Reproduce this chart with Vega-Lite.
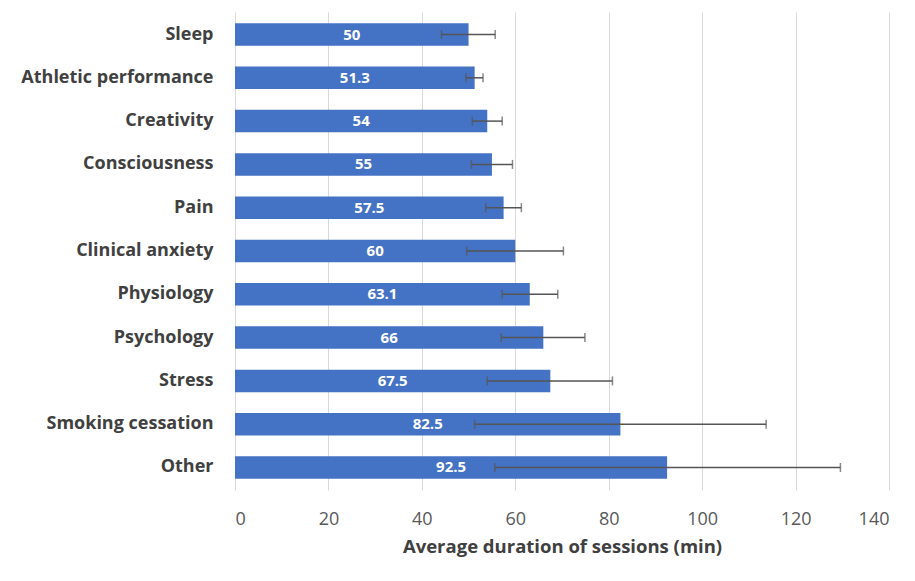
{
  "$schema": "https://vega.github.io/schema/vega-lite/v6.json",
  "autosize": "none",
  "width": 654,
  "height": 478,
  "padding": {"left": 235, "top": 12, "right": 26, "bottom": 91},
  "background": "white",
  "config": {"view": {"stroke": null}, "font": "Open Sans"},
  "data": {"values": [
    {"cat": "Sleep", "value": 50, "lo": 44.2, "hi": 55.7},
    {"cat": "Athletic performance", "value": 51.3, "lo": 49.4, "hi": 53.1},
    {"cat": "Creativity", "value": 54, "lo": 50.8, "hi": 57.2},
    {"cat": "Consciousness", "value": 55, "lo": 50.6, "hi": 59.4},
    {"cat": "Pain", "value": 57.5, "lo": 53.7, "hi": 61.3},
    {"cat": "Clinical anxiety", "value": 60, "lo": 49.6, "hi": 70.3},
    {"cat": "Physiology", "value": 63.1, "lo": 57.2, "hi": 69.1},
    {"cat": "Psychology", "value": 66, "lo": 57.0, "hi": 74.9},
    {"cat": "Stress", "value": 67.5, "lo": 54.0, "hi": 80.8},
    {"cat": "Smoking cessation", "value": 82.5, "lo": 51.3, "hi": 113.7},
    {"cat": "Other", "value": 92.5, "lo": 55.6, "hi": 129.6}
  ]},
  "encoding": {
    "y": {
      "field": "cat", "type": "nominal",
      "sort": ["Sleep", "Athletic performance", "Creativity", "Consciousness", "Pain", "Clinical anxiety", "Physiology", "Psychology", "Stress", "Smoking cessation", "Other"],
      "scale": {"paddingInner": 0.48, "paddingOuter": 0.26},
      "axis": {"title": null, "ticks": false, "domain": false, "grid": false, "labelLimit": 300,
        "labelFontSize": 18, "labelFontWeight": "bold", "labelColor": "#404040", "labelPadding": 22}
    }
  },
  "layer": [
    {
      "mark": {"type": "bar", "color": "#4472C4"},
      "encoding": {
        "x": {"field": "value", "type": "quantitative",
          "scale": {"domain": [0, 140], "nice": false},
          "axis": {"values": [0, 20, 40, 60, 80, 100, 120, 140], "title": "Average duration of sessions (min)",
            "titleFontSize": 18.5, "titleFontWeight": "bold", "titleColor": "#404040", "titlePadding": 9,
            "labelFontSize": 18, "labelColor": "#595959", "labelPadding": 20,
            "domain": false, "ticks": false, "grid": true, "gridColor": "#d9d9d9", "gridWidth": 1}
        }
      }
    },
    {
      "mark": {"type": "text", "color": "white", "fontWeight": "bold", "fontSize": 15},
      "encoding": {
        "x": {"field": "mid", "type": "quantitative"},
        "text": {"field": "value", "type": "quantitative"}
      },
      "transform": [{"calculate": "datum.value/2", "as": "mid"}]
    },
    {
      "mark": {"type": "rule", "color": "#555555", "strokeWidth": 1.5},
      "encoding": {
        "x": {"field": "lo", "type": "quantitative"},
        "x2": {"field": "hi"}
      }
    },
    {
      "mark": {"type": "tick", "color": "#555555", "thickness": 1.5, "size": 9},
      "encoding": {"x": {"field": "lo", "type": "quantitative"}}
    },
    {
      "mark": {"type": "tick", "color": "#555555", "thickness": 1.5, "size": 9},
      "encoding": {"x": {"field": "hi", "type": "quantitative"}}
    }
  ]
}
